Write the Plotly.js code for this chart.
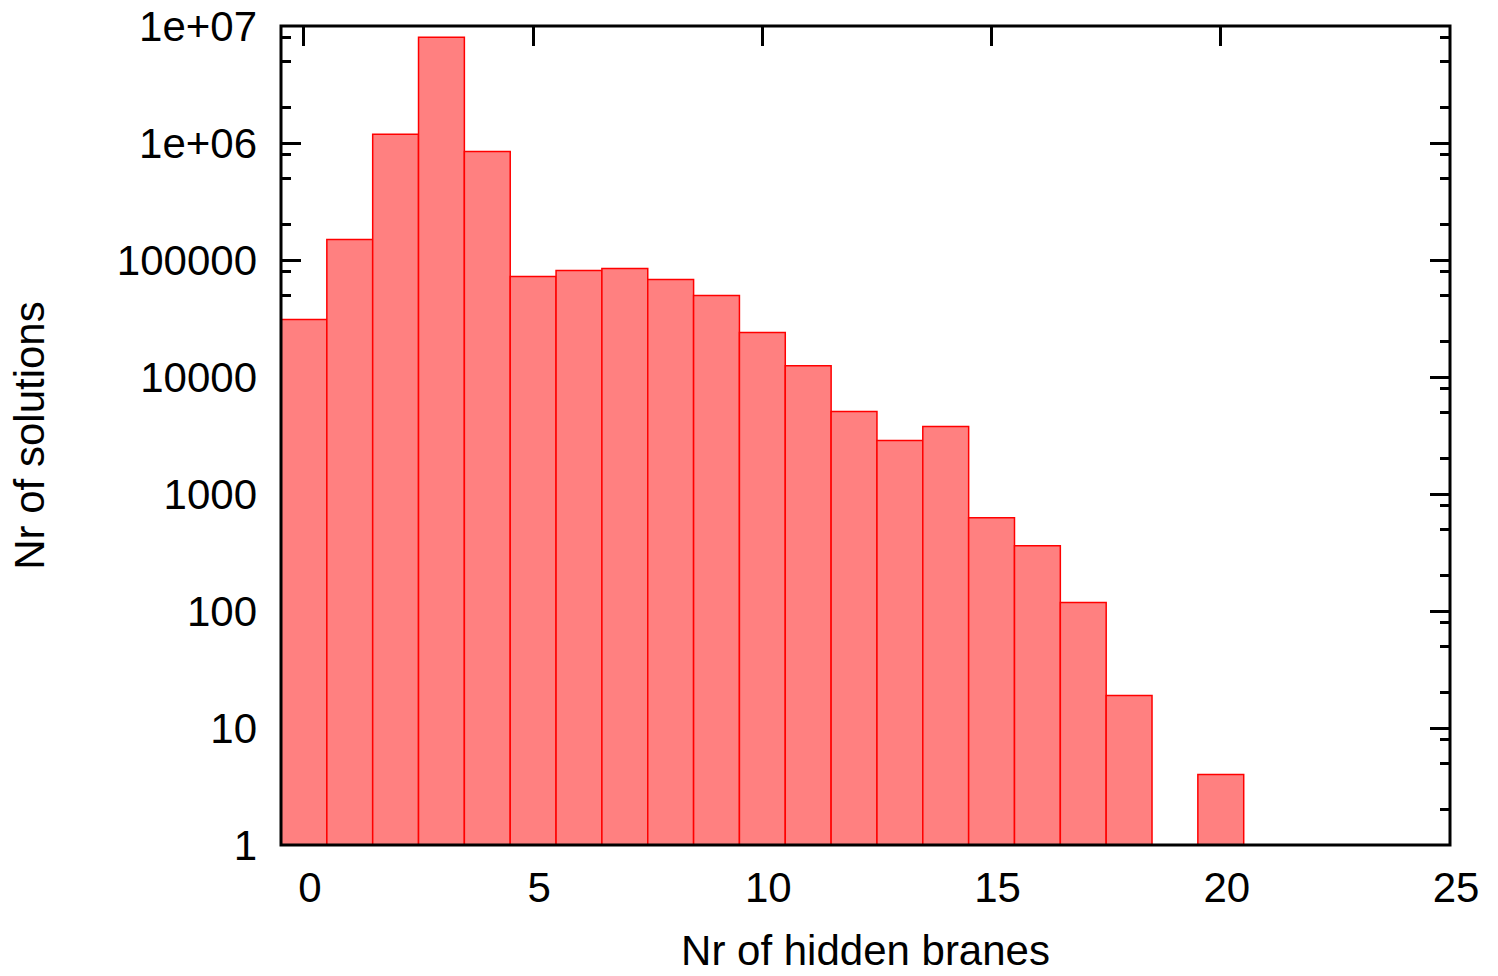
<!DOCTYPE html>
<html>
<head>
<meta charset="utf-8">
<script src="https://cdn.plot.ly/plotly-3.0.1.min.js"></script>
<style>html,body{margin:0;padding:0;background:#fff;}#chart{width:1498px;height:976px;}</style>
</head>
<body>
<div id="chart"></div>
<script>
// Number of hidden branes (bin centres)
var branes = [0, 1, 2, 3, 4, 5, 6, 7, 8, 9, 10, 11, 12, 13, 14, 15, 16, 17, 18, 19, 20];
// Number of solutions per bin; 19 is empty
var solutions = [31000, 150000, 1190000, 8000000, 847000, 72300, 81300, 84600, 68100, 49700,
                 24000, 12500, 5060, 2860, 3770, 627, 361, 118, 19, null, 4];

var yTickVals = [1, 10, 100, 1000, 10000, 100000, 1000000, 10000000];
var yTickText = ["1", "10", "100", "1000", "10000", "100000", "1e+06", "1e+07"];
var yMinorVals = [];
[1, 10, 100, 1000, 10000, 100000, 1000000].forEach(function (d) {
  [2, 5, 8].forEach(function (m) { yMinorVals.push(d * m); });
});
var xTickVals = [0, 5, 10, 15, 20, 25];

var FONT = "Liberation Sans, Arial, sans-serif";
var FS = 42;

var trace = {
  type: "bar",
  x: branes,
  y: solutions,
  width: 1,
  marker: { color: "#ff8080", line: { color: "#ff0000", width: 1.5 } },
  hoverinfo: "x+y"
};

var layout = {
  width: 1498,
  height: 976,
  margin: { l: 281, r: 48, t: 26, b: 131 },
  paper_bgcolor: "#ffffff",
  plot_bgcolor: "#ffffff",
  showlegend: false,
  bargap: 0,
  font: { family: FONT, size: FS, color: "#000000" },
  xaxis: {
    range: [-0.5, 25],
    tickmode: "array",
    tickvals: xTickVals,
    ticks: "inside",
    ticklen: 20,
    tickwidth: 3,
    tickcolor: "#000000",
    mirror: "allticks",
    showline: false,
    showgrid: false,
    zeroline: false,
    layer: "below traces",
    ticklabelstandoff: 14,
    ticklabelshift: 6,
    tickfont: { family: FONT, size: FS },
    title: { text: "Nr of hidden branes", font: { family: FONT, size: FS }, standoff: 25 }
  },
  yaxis: {
    type: "log",
    range: [0, 7],
    tickmode: "array",
    tickvals: yTickVals,
    ticktext: yTickText,
    ticks: "inside",
    ticklen: 20,
    tickwidth: 3,
    tickcolor: "#000000",
    mirror: "allticks",
    showline: false,
    showgrid: false,
    zeroline: false,
    layer: "below traces",
    ticklabelstandoff: 23,
    minor: {
      tickmode: "array",
      tickvals: yMinorVals,
      ticks: "inside",
      ticklen: 10,
      tickwidth: 3,
      tickcolor: "#000000",
      showgrid: false
    },
    tickfont: { family: FONT, size: FS },
    title: { text: "Nr of solutions", font: { family: FONT, size: FS }, standoff: 59 }
  },
  shapes: [{
    type: "rect", xref: "paper", yref: "paper", x0: 0, x1: 1, y0: 0, y1: 1,
    line: { color: "#000000", width: 3 }, fillcolor: "rgba(0,0,0,0)", layer: "above"
  }]
};

Plotly.newPlot("chart", [trace], layout, { displayModeBar: false, staticPlot: true });
</script>
</body>
</html>
